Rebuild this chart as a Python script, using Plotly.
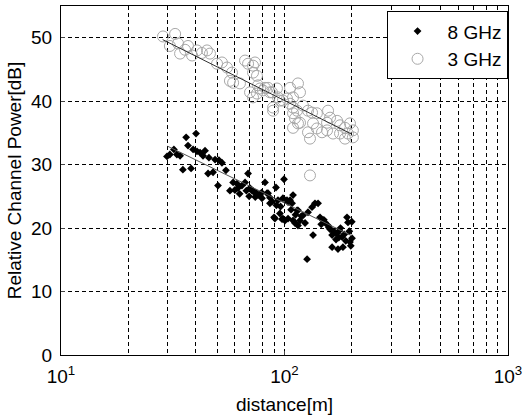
import plotly.graph_objects as go

# 8 GHz measurements (distance [m], relative channel power [dB])
d8 = [29.8, 30.7, 32.0, 33.0, 34.1, 36.3, 37.0, 40.2, 39.0, 40.6, 41.9, 43.2, 44.1, 45.9, 35.1, 38.2,
      48.9, 50.9, 52.5, 54.7, 45.5, 47.9, 50.4, 57.0, 58.9, 61.3, 61.9, 64.5, 66.6, 68.7, 71.6, 73.8,
      76.1, 79.3, 81.8, 84.4, 86.1, 89.8, 91.6, 93.5, 95.4, 98.4, 99.5, 102.6, 103.7, 105.9, 109.2,
      111.4, 113.8, 114.9, 70.1, 72.5, 75.0, 77.7, 83.5, 86.1, 90.6, 97.5, 100.5, 98.4, 103.7, 108.1,
      109.2, 114.9, 117.3, 121.0, 123.6, 127.4, 132.8, 136.9, 141.3, 134.2, 144.2, 151.8, 156.6, 163.3,
      168.4, 171.9, 180.8, 190.4, 192.3, 163.3, 173.5, 182.6, 196.3, 200.4, 126.2, 160.0, 165.0, 175.0,
      185.0, 195.0, 200.0, 188.0, 178.0, 170.0, 198.0, 60.0, 63.0, 67.5, 69.5, 74.0, 79.0, 88.0, 92.0,
      96.0, 107.0, 112.0, 119.0, 146.0, 150.0, 158.0, 176.0]
p8 = [31.3, 31.6, 32.4, 31.6, 31.4, 34.3, 33.0, 34.9, 32.4, 32.1, 31.9, 31.4, 32.2, 31.1, 29.2, 29.4,
      30.8, 30.7, 30.3, 29.1, 28.6, 28.8, 26.7, 25.9, 27.2, 27.0, 26.3, 26.7, 27.2, 28.6, 25.9, 25.6,
      25.2, 24.7, 27.2, 25.5, 23.9, 21.7, 26.4, 24.4, 22.3, 21.5, 27.7, 24.4, 21.5, 24.4, 21.2,
      20.8, 22.8, 20.4, 26.3, 25.8, 25.5, 25.2, 25.5, 24.8, 21.5, 21.4, 21.2, 24.7, 24.1, 23.9,
      25.2, 22.8, 21.2, 22.0, 20.8, 22.5, 23.3, 23.9, 23.9, 18.9, 21.7, 20.9, 20.4, 18.9,
      19.3, 19.2, 18.6, 21.7, 20.9, 17.0, 16.7, 17.0, 17.8, 18.4, 15.1, 19.8, 19.5, 18.5,
      19.0, 19.5, 21.0, 18.0, 20.0, 18.2, 17.2, 26.0, 25.4, 25.9, 25.0, 24.9, 25.6, 24.2, 23.6,
      23.4, 22.9, 22.1, 21.9, 20.6, 21.3, 20.1, 19.6]

# 3 GHz measurements
d3 = [28.6, 32.4, 30.7, 33.4, 35.9, 37.0, 40.6, 42.7, 45.0, 46.4, 38.6, 34.1, 49.9, 52.5, 55.3, 58.2,
      57.0, 58.9, 63.2, 66.6, 68.7, 72.3, 72.3, 75.3, 77.7, 80.1, 84.4, 87.9, 92.5, 88.9, 95.4, 102.6,
      105.9, 109.2, 113.8, 114.9, 109.2, 73.8, 75.3, 76.1, 81.8, 86.1, 70.1, 72.3, 88.9, 93.5, 98.4,
      105.9, 114.9, 117.3, 109.2, 121.0, 127.4, 132.8, 139.6, 111.4, 117.3, 109.2, 156.6, 159.9, 134.2,
      139.6, 147.2, 155.0, 171.9, 177.2, 186.5, 196.3, 202.3, 192.3, 177.2, 164.9, 130.0, 127.4, 202.3,
      186.5, 155.0, 130.0]
p3 = [50.2, 50.6, 48.7, 49.1, 48.1, 48.7, 48.0, 47.6, 48.0, 47.5, 47.2, 47.5, 45.9, 46.1, 45.3, 44.5,
      43.2, 42.9, 42.8, 46.4, 45.9, 45.6, 44.5, 41.2, 42.0, 41.7, 42.1, 41.4, 42.0, 38.5, 40.1, 40.4,
      39.6, 39.0, 38.5, 36.5, 38.1, 46.1, 44.0, 42.5, 42.1, 41.4, 41.4, 40.6, 39.0, 40.6, 40.1,
      42.1, 42.8, 41.4, 40.6, 39.3, 38.5, 38.2, 38.1, 37.3, 36.6, 35.8, 38.5, 37.4, 36.5,
      35.7, 35.1, 35.4, 36.9, 36.2, 35.8, 36.5, 35.4, 34.9, 34.9, 34.9, 34.1, 35.1, 34.3,
      34.1, 36.6, 28.3]

# regression lines
fit_d8 = [30.0, 200.0]
fit_p8 = [32.9, 18.8]
fit_d3 = [28.5, 200.0]
fit_p3 = [49.7, 34.8]

x_tickvals = [10, 100, 1000]
x_ticktext = ["10<sup>1</sup>", "10<sup>2</sup>", "10<sup>3</sup>"]
y_tickvals = [0, 10, 20, 30, 40, 50]

FONT = "Liberation Sans, Arial, sans-serif"
grid_dash = "4px,3px"

fig = go.Figure()
fig.add_trace(go.Scatter(x=d3, y=p3, mode="markers", name="3 GHz",
                         marker=dict(symbol="circle-open", size=11, color="#a8a8a8",
                                     line=dict(width=1, color="#a8a8a8"))))
fig.add_trace(go.Scatter(x=d8, y=p8, mode="markers", name="8 GHz",
                         marker=dict(symbol="diamond", size=6, color="black")))
fig.add_trace(go.Scatter(x=fit_d3, y=fit_p3, mode="lines", showlegend=False,
                         line=dict(color="#333333", width=1)))
fig.add_trace(go.Scatter(x=fit_d8, y=fit_p8, mode="lines", showlegend=False,
                         line=dict(color="#555555", width=1)))

tick_font = dict(family=FONT, size=19, color="black")

fig.update_layout(
    width=527, height=415,
    margin=dict(l=61, r=19, t=6, b=60),
    paper_bgcolor="white", plot_bgcolor="white",
    font=dict(family=FONT, size=18, color="black"),
    legend=dict(x=0.999, y=0.985, xanchor="right", yanchor="top",
                bordercolor="black", borderwidth=1, bgcolor="white",
                font=dict(family=FONT, size=19), traceorder="reversed",
                itemwidth=50, tracegroupgap=0),
    xaxis=dict(type="log", range=[1, 3], tickvals=x_tickvals, ticktext=x_ticktext,
               automargin=False,
               showgrid=True, gridcolor="black", griddash=grid_dash, gridwidth=1,
               minor=dict(showgrid=True, gridcolor="black", griddash=grid_dash, gridwidth=1,
                          dtick="D1", ticks=""),
               showline=True, linecolor="black", linewidth=1, mirror=True,
               ticks="inside", ticklen=4, tickfont=tick_font, ticklabelstandoff=4,
               title=dict(text="distance[m]", font=dict(family=FONT, size=19), standoff=11),
               zeroline=False),
    yaxis=dict(range=[0, 55], tickvals=y_tickvals, automargin=False,
               showgrid=True, gridcolor="black", griddash=grid_dash, gridwidth=1,
               showline=True, linecolor="black", linewidth=1, mirror=True,
               ticks="inside", ticklen=4, tickfont=tick_font, ticklabelstandoff=4,
               title=dict(text="Relative Channel Power[dB]", font=dict(family=FONT, size=19),
                          standoff=4),
               zeroline=False),
)

fig.write_html("out.html", config={"displayModeBar": False},
               post_script="document.body.style.margin='0';")
